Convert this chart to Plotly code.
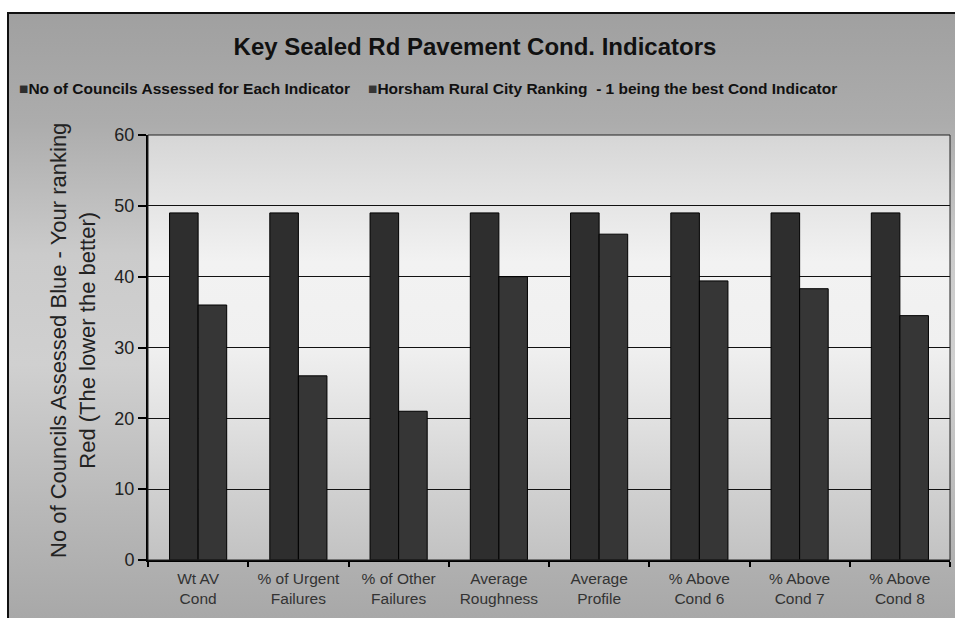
import base64
import plotly.graph_objects as go

# Indicator categories and the two series
categories = [
    "Wt AV<br>Cond", "% of Urgent<br>Failures", "% of Other<br>Failures",
    "Average<br>Roughness", "Average<br>Profile", "% Above<br>Cond 6",
    "% Above<br>Cond 7", "% Above<br>Cond 8",
]
councils_assessed = [49, 49, 49, 49, 49, 49, 49, 49]
horsham_ranking = [36, 26, 21, 40, 46, 39.4, 38.3, 34.5]
series_names = [
    "No of Councils Assessed for Each Indicator",
    "Horsham Rural City Ranking  - 1 being the best Cond Indicator",
]
y_ticks = [0, 10, 20, 30, 40, 50, 60]

FONT = "Liberation Sans, Arial, sans-serif"
BAR_COLORS = ["#2e2e2e", "#363636"]


def gradient_svg(stops):
    """Vertical linear gradient as an SVG data URI (top -> bottom)."""
    stop_xml = "".join(
        f'<stop offset="{o}%" stop-color="{c}"/>' for o, c in stops
    )
    svg = (
        '<svg xmlns="http://www.w3.org/2000/svg" width="100" height="100" '
        'viewBox="0 0 100 100" preserveAspectRatio="none">'
        '<defs><linearGradient id="g" x1="0" y1="0" x2="0" y2="1">'
        f"{stop_xml}</linearGradient></defs>"
        '<rect x="0" y="0" width="100" height="100" fill="url(#g)"/></svg>'
    )
    return "data:image/svg+xml;base64," + base64.b64encode(svg.encode()).decode()


frame_bg = gradient_svg([
    (0, "#a0a0a0"), (18, "#acacac"), (40, "#cbcbcb"), (58, "#d0d0d0"),
    (82, "#b8b8b8"), (100, "#a8a8a8"),
])
plot_bg = gradient_svg([
    (0, "#d6d6d6"), (15, "#e4e4e4"), (30, "#f2f2f2"), (50, "#f0f0f0"),
    (68, "#e0e0e0"), (85, "#cfcfcf"), (100, "#c2c2c2"),
])

fig = go.Figure()
for name, vals, col in zip(series_names, [councils_assessed, horsham_ranking],
                           BAR_COLORS):
    fig.add_trace(go.Bar(
        x=categories, y=vals, name=name, showlegend=False,
        marker=dict(color=col, line=dict(color="#000000", width=1)),
    ))

# Plot area spans 148..950 px horizontally and 135..560 px vertically
W, H = 955, 618
L, R, T, B = 148, 950, 135, 560
pw, ph = R - L, B - T


def px_x(p):
    return (p - L) / pw


def px_y(p):
    return (B - p) / ph


# Legend row drawn as text keys: a small square followed by the series name
legend_x = [17, 366]
legend_notes = [
    dict(text=f'<span style="color:{col}">■</span>{name}',
         xref="paper", yref="paper", x=px_x(lx), y=px_y(88),
         xanchor="left", yanchor="middle", showarrow=False,
         font=dict(size=15.5, family=FONT, color="#111111", weight="bold"))
    for lx, name, col in zip(legend_x, series_names, BAR_COLORS)
]

fig.update_layout(
    width=W, height=H,
    margin=dict(l=L, r=W - R, t=T, b=H - B, pad=0),
    paper_bgcolor="#ffffff",
    plot_bgcolor="rgba(0,0,0,0)",
    barmode="group", bargap=0.43, bargroupgap=0,
    showlegend=False,
    font=dict(family=FONT, color="#1a1a1a"),
    title=dict(
        text="<b>Key Sealed Rd Pavement Cond. Indicators</b>",
        font=dict(size=24, family=FONT, color="#111111"),
        x=475 / W, xanchor="center", xref="container",
        y=1 - 47 / H, yanchor="middle", yref="container",
    ),
    xaxis=dict(
        showgrid=False, ticks="outside", tickson="boundaries", ticklen=5,
        tickcolor="#000000", tickwidth=2,
        showline=True, linecolor="#000000", linewidth=2,
        tickfont=dict(size=15.5, family=FONT, color="#333333"),
        ticklabelstandoff=3,
    ),
    yaxis=dict(
        range=[0, 60], tickvals=y_ticks, showgrid=True,
        gridcolor="#111111", gridwidth=1.3,
        ticks="outside", ticklen=8, tickcolor="#000000", tickwidth=2,
        showline=True, linecolor="#000000", linewidth=2,
        tickfont=dict(size=18, family=FONT, color="#222222"),
        zeroline=False,
    ),
    images=[
        dict(source=frame_bg, xref="paper", yref="paper",
             x=px_x(8), y=px_y(13), sizex=px_x(W) - px_x(8),
             sizey=px_y(13) - px_y(H), xanchor="left", yanchor="top",
             sizing="stretch", layer="below"),
        dict(source=plot_bg, xref="paper", yref="paper",
             x=0, y=1, sizex=1, sizey=1, xanchor="left", yanchor="top",
             sizing="stretch", layer="below"),
    ],
    shapes=[
        # chart frame
        dict(type="rect", xref="paper", yref="paper",
             x0=px_x(8), x1=px_x(W + 10), y0=px_y(H + 10), y1=px_y(13),
             line=dict(color="#111111", width=2), fillcolor="rgba(0,0,0,0)",
             layer="above"),
        # plot area border
        dict(type="rect", xref="paper", yref="paper", x0=0, x1=1, y0=0, y1=1,
             line=dict(color="#222222", width=1), fillcolor="rgba(0,0,0,0)",
             layer="above"),
    ],
    annotations=legend_notes + [
        dict(text="No of Councils Assessed Blue - Your ranking<br>"
                  "Red (The lower the better)",
             xref="paper", yref="paper", x=px_x(73), y=px_y(341),
             xanchor="center", yanchor="middle", textangle=-90,
             showarrow=False, font=dict(size=22, family=FONT, color="#222222")),
    ],
)

fig.write_html("out.html")
